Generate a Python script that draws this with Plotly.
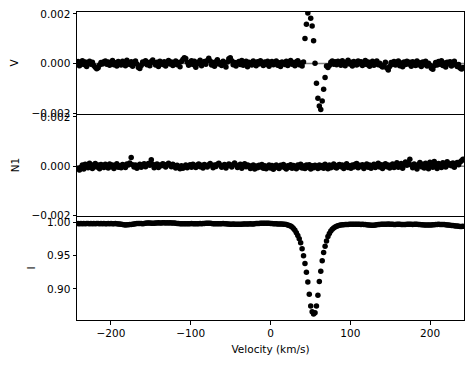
import plotly.graph_objects as go
from plotly.subplots import make_subplots

# Velocity grid: start and step (km/s)
V_START = -241.2
V_STEP = 1.8

# Stokes V (units of 1e-4)
stokes_v_1e4 = [
    0.8, -0.9, 0.3, 1.1, -0.4, 0.6, -1.2, 0.2, 0.9, -0.3,
    0.5, -0.8, -1.5, -2.1, -1.7, -0.6, 0.4, -0.2, 0.7, 1.0,
    -0.3, 0.6, -0.7, 0.2, 1.2, -0.5, 0.3, -1.0, 0.8, 0.1,
    -0.6, 0.9, 0.4, -0.9, 1.3, 0.2, -0.4, 0.7, -1.1, 0.5,
    1.0, -0.2, -1.6, -2.0, -0.8, 0.6, 0.1, 1.1, -0.5, 0.4,
    -0.9, 0.8, 1.4, 0.3, -0.6, 0.5, -1.2, 0.9, 0.2, -0.4,
    0.7, -1.0, 0.3, 1.2, -0.2, 0.6, -0.8, 0.1, 1.0, -0.5,
    0.4, -1.3, 0.8, 1.6, 2.3, 2.0, 0.5, -0.7, 0.3, 1.1,
    -0.4, 0.9, -1.5, -0.2, 0.6, 1.3, -0.9, 0.2, 0.8, -0.3,
    1.2, 2.1, 1.0, -0.6, 0.4, -1.1, 0.7, 1.5, -0.2, 0.3,
    -0.8, 0.9, 0.2, -1.4, 0.6, 1.9, 2.3, 1.1, -0.5, 0.4,
    -1.0, 0.3, 0.8, -0.4, 1.2, -0.7, 0.1, 0.9, -1.3, 0.5,
    0.2, -0.6, 1.0, 0.4, -0.9, 0.7, -0.2, 1.1, 0.3, -0.8,
    0.6, -0.3, 0.9, -1.1, 0.4, 0.8, -0.5, 0.2, 1.0, -0.7,
    0.3, -1.2, 0.6, 0.1, -0.4, 0.9, -0.8, 0.5, 1.2, -0.3,
    0.4, -0.9, 0.7, 1.1, -0.5, 0.2, -1.0, 0.6,
    10.1, 15.9, 20.4, 23.0, 18.3, 15.1, 9.2, 0.1, -8.0, -14.0,
    -17.2, -18.6, -15.1, -10.4, -5.7, -1.0,
    -1.6, -0.8, 0.5, 1.0, -0.3, 0.7,
    -0.5, 0.9, 0.2, -0.7, 1.1, 0.4, -0.9, 0.6, 1.3, -0.2,
    0.5, -1.0, 0.8, 0.3, -0.6, 1.0, -0.1, 0.7, -0.8, 0.4,
    1.2, -0.4, 0.6, -1.1, 0.2, 0.9, -0.7, 0.3, 1.0, -0.5,
    0.1, -0.9, -1.4, -0.6, 0.5, -1.8, -2.6, -1.2, 0.4, -0.3,
    0.8, -0.6, 0.3, 1.0, -0.9, 0.2, -1.3, 0.6, -0.4, 0.9,
    -0.2, 0.5, -1.1, 0.7, 0.2, -0.8, 1.0, -0.5, 0.3, -1.2,
    0.6, -0.4, 0.9, -1.0, 0.1, -0.7, -1.9, -2.3, -0.9, 0.4,
    -0.6, 0.8, -0.3, 1.1, -0.8, 0.2, -1.4, 0.5, -0.2, 0.7,
    -1.0, 0.3, 0.9, -0.5, -1.2, -0.4, -1.8, -2.2, -1.6,
]

# Null N1 (units of 1e-4)
null_n1_1e4 = [
    -0.8, -1.5, -0.4, 0.6, -1.1, 0.9, 0.2, -0.6, 1.3, 0.4,
    -0.9, 0.7, 1.2, -0.3, 0.5, -1.0, 0.8, 0.1, -0.5, 0.9,
    0.3, -0.7, 1.0, -0.2, 0.6, -0.9, 0.4, 1.1, -0.4, 0.2,
    -0.6, 0.8, 0.3, -0.5, 1.0, 0.5, 1.4, 3.6, 0.7, -0.3,
    0.6, -0.8, 0.2, 0.9, -0.4, 0.5, 1.1, -0.2, 0.7, 1.2,
    0.4, 2.7, 0.9, -0.6, 0.3, 1.0, -0.5, 0.6, 0.2, 1.1,
    0.8, -0.3, 0.5, 1.3, 0.6, -0.2, 0.9, 0.3, -0.7, 0.4,
    -0.5, -1.0, 0.2, -0.8, -0.3, 0.6, -0.6, 0.1, 0.7, -0.4,
    0.9, 0.3, -0.5, 0.6, 1.0, -0.2, 0.4, -0.7, 0.8, 0.2,
    -0.3, 0.7, 1.2, 0.4, -0.6, 0.5, -0.1, 0.9, 1.3, 0.6,
    -0.4, 0.3, 0.8, -0.7, 0.2, 1.0, 0.5, -0.3, 0.7, 1.4,
    0.6, -0.5, 0.2, 0.9, -0.8, 0.4, 1.1, -0.2, 0.6, 0.3,
    -0.9, -0.4, 0.5, -1.1, 0.1, -0.6, 0.4, -0.3, 0.8, -0.8,
    0.2, -1.0, -0.4, 0.5, -0.7, 0.3, -1.2, 0.0, 0.6, -0.5,
    -0.9, 0.4, -0.2, 0.8, -0.6, -1.1, 0.2, -0.4, 0.7, -0.8,
    0.3, -0.5, -1.0, 0.6, -0.3, 0.9, -0.7, 0.1, -0.9, 0.5,
    -0.4, 0.7, -1.1, 0.2, -0.6, 0.4, -0.2, -0.9, 0.6, -0.5,
    0.3, -0.8, 0.9, -0.3, -1.0, 0.5, -0.6, 0.2, 1.0, -0.4,
    -0.7, 0.4, 0.8, -0.2, 0.6, -0.9, 0.3, 1.1, -0.5, 0.2,
    -0.8, 0.5, -0.3, 0.9, 1.2, -0.6, 0.4, -0.1, 0.7, -0.9,
    0.3, 1.0, -0.4, 0.6, -0.8, 0.2, 0.9, -0.5, 0.4, 1.3,
    -0.3, 0.7, -0.9, 0.5, 1.1, -0.2, 0.6, -0.7, 0.3, 1.0,
    -0.5, 0.8, 1.5, -0.4, 0.2, 1.2, -0.8, 0.6, 1.8, 0.4,
    1.4, 2.9, 0.5, -0.6, 1.0, 0.3, -1.1, 0.8, 1.6, -0.2,
    0.9, -0.7, 1.3, 0.4, -1.0, 1.7, 0.6, -0.4, 2.0, 0.8,
    -0.9, 1.2, 0.3, -0.5, 1.5, 0.7, -0.3, 1.9, 0.5, 1.1,
    0.2, 1.4, -0.4, 0.9, 1.6, 0.7, 1.8, 2.3, 2.9,
]

# Stokes I
stokes_i = [
    0.9978, 0.9975, 0.9979, 0.9976, 0.9978, 0.9974, 0.9977, 0.9979, 0.9976, 0.9978,
    0.9975, 0.9977, 0.9976, 0.9979, 0.9977, 0.9975, 0.9978, 0.9976, 0.9977, 0.9975,
    0.9976, 0.9978, 0.9975, 0.9977, 0.9976, 0.9974, 0.9977, 0.9975, 0.9973, 0.9970,
    0.9966, 0.9962, 0.9960, 0.9958, 0.9961, 0.9959, 0.9962, 0.9965, 0.9968, 0.9972,
    0.9975, 0.9978, 0.9980, 0.9979, 0.9977, 0.9975, 0.9978, 0.9982, 0.9985, 0.9987,
    0.9986, 0.9984, 0.9981, 0.9983, 0.9986, 0.9988, 0.9989, 0.9987, 0.9988, 0.9990,
    0.9989, 0.9988, 0.9990, 0.9987, 0.9989, 0.9988, 0.9986, 0.9985, 0.9982, 0.9979,
    0.9977, 0.9976, 0.9975, 0.9976, 0.9974, 0.9975, 0.9976, 0.9974, 0.9975, 0.9977,
    0.9976, 0.9975, 0.9974, 0.9976, 0.9975, 0.9977, 0.9976, 0.9978, 0.9980, 0.9982,
    0.9983, 0.9984, 0.9982, 0.9979, 0.9976, 0.9975, 0.9974, 0.9975, 0.9976, 0.9974,
    0.9975, 0.9977, 0.9976, 0.9974, 0.9972, 0.9970, 0.9969, 0.9968, 0.9970, 0.9969,
    0.9967, 0.9968, 0.9966, 0.9967, 0.9969, 0.9971, 0.9972, 0.9970, 0.9971, 0.9973,
    0.9974, 0.9972, 0.9973, 0.9975, 0.9977, 0.9978, 0.9980, 0.9982, 0.9983, 0.9984,
    0.9983, 0.9984, 0.9982, 0.9981, 0.9979, 0.9977, 0.9976, 0.9975, 0.9974, 0.9973,
    0.9972, 0.9971, 0.9970, 0.9968,
    0.9967, 0.9963, 0.9958, 0.9950, 0.9940, 0.9925, 0.9905, 0.9878, 0.9840, 0.9800,
    0.9752, 0.9690, 0.9600, 0.9495, 0.9380, 0.9250, 0.9105, 0.8920, 0.8745, 0.8660,
    0.8625, 0.8645, 0.8745, 0.8905, 0.9110, 0.9265, 0.9420, 0.9545, 0.9640, 0.9718,
    0.9785, 0.9830, 0.9865, 0.9892, 0.9912, 0.9926, 0.9937, 0.9946, 0.9952, 0.9956,
    0.9959,
    0.9961, 0.9963, 0.9964, 0.9965, 0.9966,
    0.9967, 0.9966, 0.9968, 0.9967, 0.9969, 0.9968, 0.9967, 0.9965, 0.9966, 0.9964,
    0.9962, 0.9960, 0.9958, 0.9955, 0.9953, 0.9952, 0.9954, 0.9957, 0.9960, 0.9963,
    0.9965, 0.9967, 0.9968, 0.9966, 0.9967, 0.9969, 0.9970, 0.9968, 0.9967, 0.9966,
    0.9964, 0.9965, 0.9967, 0.9968, 0.9966, 0.9965, 0.9963, 0.9962, 0.9964, 0.9966,
    0.9968, 0.9969, 0.9967, 0.9965, 0.9966, 0.9968, 0.9967, 0.9965, 0.9963, 0.9961,
    0.9959, 0.9957, 0.9956, 0.9955, 0.9956, 0.9958, 0.9957, 0.9959, 0.9961, 0.9963,
    0.9965, 0.9966, 0.9964, 0.9965, 0.9963, 0.9962, 0.9960, 0.9957, 0.9955, 0.9952,
    0.9950, 0.9948, 0.9945, 0.9942, 0.9940, 0.9937, 0.9935, 0.9934, 0.9936,
]

x_ticks = [-200, -100, 0, 100, 200]
v_ticks = [-0.002, 0.0, 0.002]
i_ticks = [0.90, 0.95, 1.00]


def vel(n):
    return [round(V_START + V_STEP * k, 1) for k in range(n)]


stokes_v = [val * 1e-4 for val in stokes_v_1e4]
null_n1 = [val * 1e-4 for val in null_n1_1e4]

FONT = "DejaVu Sans"

fig = make_subplots(rows=3, cols=1, shared_xaxes=True, vertical_spacing=0,
                    row_heights=[102, 102, 104])

mk = dict(color="black", size=5.5)
fig.add_trace(go.Scatter(x=vel(len(stokes_v)), y=stokes_v, mode="markers",
                         marker=mk, showlegend=False), row=1, col=1)
fig.add_trace(go.Scatter(x=vel(len(null_n1)), y=null_n1, mode="markers",
                         marker=mk, showlegend=False), row=2, col=1)
fig.add_trace(go.Scatter(x=vel(len(stokes_i)), y=stokes_i, mode="markers",
                         marker=mk, showlegend=False), row=3, col=1)

# grey zero lines
for xref, yref in [("x domain", "y"), ("x2 domain", "y2")]:
    fig.add_shape(type="line", xref=xref, yref=yref, x0=0, x1=1, y0=0, y1=0,
                  line=dict(color="#808080", width=1.5), layer="below")

axis_common = dict(showline=True, mirror=True, linecolor="black", linewidth=1,
                   ticks="outside", ticklen=3.5, tickwidth=1, tickcolor="black",
                   showgrid=False, zeroline=False, automargin=False,
                   ticklabeloverflow="allow",
                   tickfont=dict(family=FONT, size=10.5, color="black"))

title_font = dict(family=FONT, size=10.5, color="black")

for r in (1, 2, 3):
    fig.update_xaxes(range=[-242.5, 242.5], row=r, col=1, **axis_common)
fig.update_xaxes(showticklabels=False, ticks="", row=1, col=1)
fig.update_xaxes(showticklabels=False, ticks="", mirror=False, row=2, col=1)
fig.update_xaxes(tickvals=x_ticks, mirror=False, row=3, col=1,
                 title=dict(text="Velocity (km/s)", standoff=7, font=title_font))

fig.update_yaxes(range=[-0.00204, 0.00208], tickvals=v_ticks, tickformat=".3f",
                 title=dict(text="V", standoff=10, font=title_font),
                 row=1, col=1, **axis_common)
fig.update_yaxes(range=[-0.00201, 0.00212], tickvals=v_ticks, tickformat=".3f",
                 title=dict(text="N1", standoff=9, font=title_font),
                 row=2, col=1, **axis_common)
fig.update_yaxes(range=[0.8535, 1.0091], tickvals=i_ticks, tickformat=".2f",
                 title=dict(text="I", standoff=9, font=title_font),
                 row=3, col=1, **axis_common)

# page body has an 8px margin: figure sized so the plot area lands where the reference has it
fig.update_layout(width=466, height=357, margin=dict(l=69, r=10, t=4, b=45),
                  plot_bgcolor="white", paper_bgcolor="white",
                  font=dict(family=FONT, size=10.5, color="black"))

fig.write_html("out.html")
